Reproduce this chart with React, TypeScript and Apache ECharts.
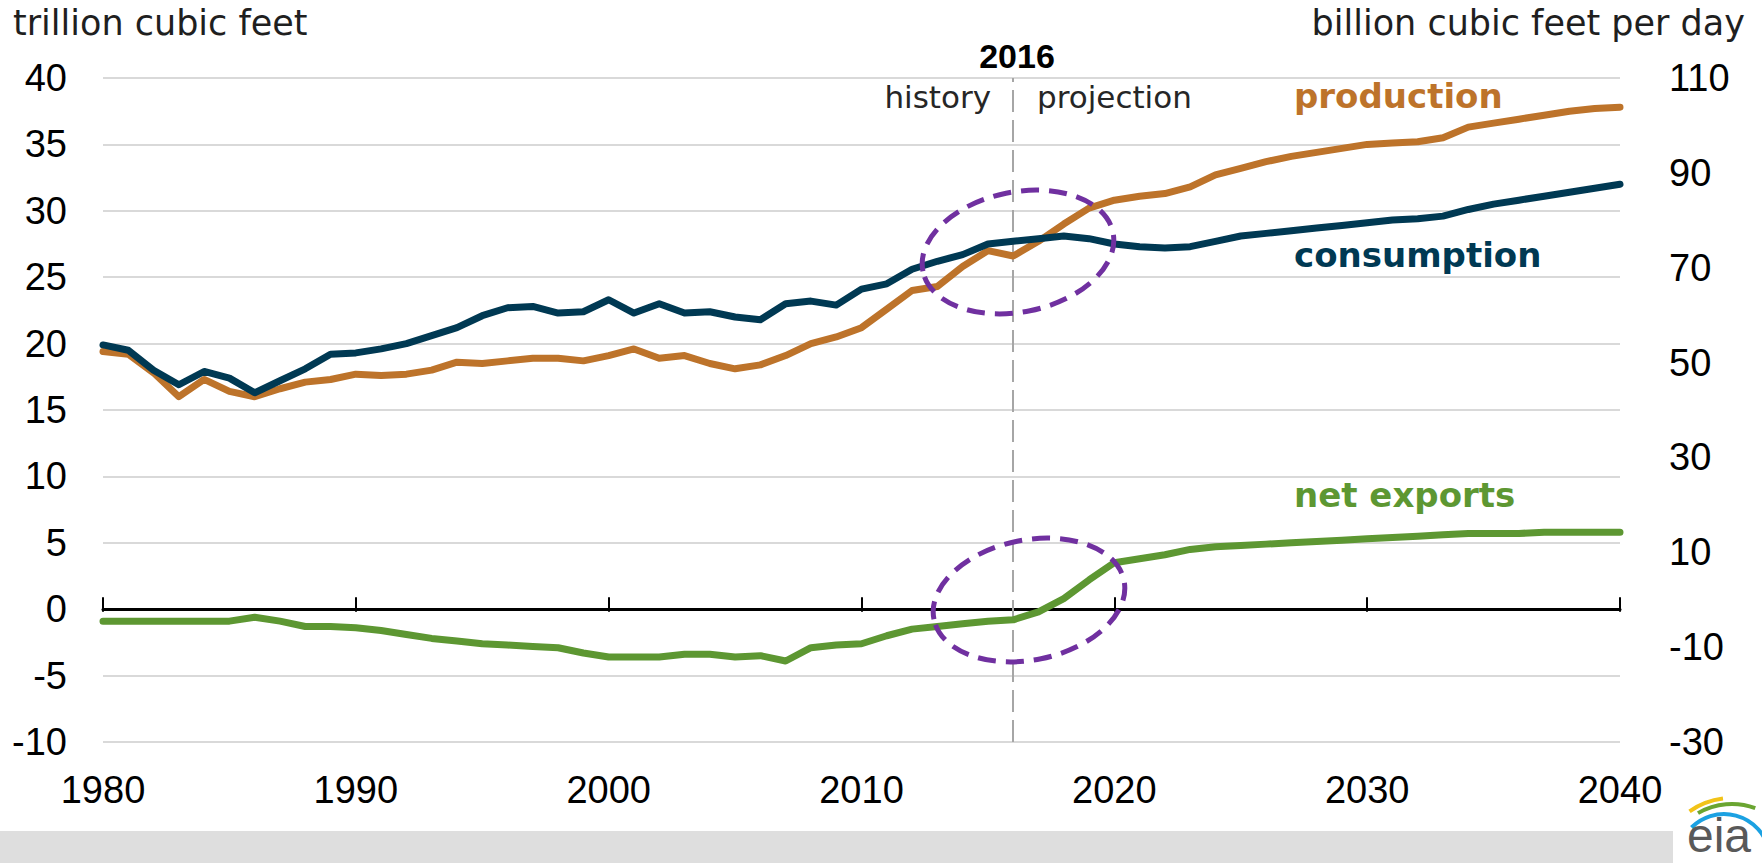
import React, { useEffect, useRef } from "react";
import * as echarts from "echarts";

// ---------- data ----------
const years: number[] = [
  1980, 1981, 1982, 1983, 1984, 1985, 1986, 1987, 1988, 1989,
  1990, 1991, 1992, 1993, 1994, 1995, 1996, 1997, 1998, 1999,
  2000, 2001, 2002, 2003, 2004, 2005, 2006, 2007, 2008, 2009,
  2010, 2011, 2012, 2013, 2014, 2015, 2016, 2017, 2018, 2019,
  2020, 2021, 2022, 2023, 2024, 2025, 2026, 2027, 2028, 2029,
  2030, 2031, 2032, 2033, 2034, 2035, 2036, 2037, 2038, 2039,
  2040,
];

const production: number[] = [
  19.4, 19.2, 17.8, 16.0, 17.3, 16.4, 16.0, 16.6, 17.1, 17.3,
  17.7, 17.6, 17.7, 18.0, 18.6, 18.5, 18.7, 18.9, 18.9, 18.7,
  19.1, 19.6, 18.9, 19.1, 18.5, 18.1, 18.4, 19.1, 20.0, 20.5,
  21.2, 22.6, 24.0, 24.3, 25.8, 27.0, 26.6, 27.7, 29.0, 30.2,
  30.8, 31.1, 31.3, 31.8, 32.7, 33.2, 33.7, 34.1, 34.4, 34.7,
  35.0, 35.1, 35.2, 35.5, 36.3, 36.6, 36.9, 37.2, 37.5, 37.7,
  37.8,
];

const consumption: number[] = [
  19.9, 19.5, 18.0, 16.9, 17.9, 17.4, 16.3, 17.2, 18.1, 19.2,
  19.3, 19.6, 20.0, 20.6, 21.2, 22.1, 22.7, 22.8, 22.3, 22.4,
  23.3, 22.3, 23.0, 22.3, 22.4, 22.0, 21.8, 23.0, 23.2, 22.9,
  24.1, 24.5, 25.6, 26.2, 26.7, 27.5, 27.7, 27.9, 28.1, 27.9,
  27.5, 27.3, 27.2, 27.3, 27.7, 28.1, 28.3, 28.5, 28.7, 28.9,
  29.1, 29.3, 29.4, 29.6, 30.1, 30.5, 30.8, 31.1, 31.4, 31.7,
  32.0,
];

const netExports: number[] = [
  -0.9, -0.9, -0.9, -0.9, -0.9, -0.9, -0.6, -0.9, -1.3, -1.3,
  -1.4, -1.6, -1.9, -2.2, -2.4, -2.6, -2.7, -2.8, -2.9, -3.3,
  -3.6, -3.6, -3.6, -3.4, -3.4, -3.6, -3.5, -3.9, -2.9, -2.7,
  -2.6, -2.0, -1.5, -1.3, -1.1, -0.9, -0.8, -0.2, 0.8, 2.2,
  3.5, 3.8, 4.1, 4.5, 4.7, 4.8, 4.9, 5.0, 5.1, 5.2,
  5.3, 5.4, 5.5, 5.6, 5.7, 5.7, 5.7, 5.8, 5.8, 5.8,
  5.8,
];

const splitYear = 2016;
const xRange = { min: 1980, max: 2040, interval: 10 };
const leftRange = { min: -10, max: 40, interval: 5 };
const rightRange = { min: -30, max: 110, interval: 20 };

const leftTitle = "trillion cubic feet";
const rightTitle = "billion cubic feet per day";
const seriesNames = ["production", "consumption", "net exports"];

// ---------- styles ----------
const ORANGE = "#BD732A";
const NAVY = "#003953";
const GREEN = "#5D9732";
const PURPLE = "#7030A0";
const TICK_FONT = "Liberation Sans";
const LABEL_FONT = "DejaVu Sans";

const pairs = (vals: number[]) => years.map((y, i) => [y, vals[i]]);

function buildOption() {
  const baseX = {
    type: "value",
    min: xRange.min,
    max: xRange.max,
    interval: xRange.interval,
    splitLine: { show: false },
  };
  const lineStyle = (color: string) => ({ color, width: 7, cap: "round", join: "round" });
  return {
    animation: false,
    backgroundColor: "#ffffff",
    grid: { left: 103, right: 142, top: 78, bottom: 121, containLabel: false },
    xAxis: [
      {
        ...baseX,
        axisLine: { show: false, onZero: false },
        axisTick: { show: false },
        axisLabel: {
          margin: 29,
          fontSize: 38,
          fontFamily: TICK_FONT,
          color: "#000",
          formatter: (v: number) => String(v),
        },
      },
      {
        ...baseX,
        axisLine: { show: true, onZero: true, lineStyle: { color: "#000", width: 3 } },
        axisTick: { show: true, inside: false, length: 12, lineStyle: { color: "#000", width: 2 } },
        axisLabel: { show: false },
      },
      {
        ...baseX,
        axisLine: { show: false, onZero: true },
        axisTick: { show: true, inside: true, length: 12, lineStyle: { color: "#000", width: 2 } },
        axisLabel: { show: false },
      },
    ],
    yAxis: [
      {
        type: "value",
        position: "left",
        min: leftRange.min,
        max: leftRange.max,
        interval: leftRange.interval,
        axisLine: { show: false },
        axisTick: { show: false },
        splitLine: { show: true, lineStyle: { color: "#D9D9D9", width: 2 } },
        axisLabel: { margin: 36, fontSize: 38, fontFamily: TICK_FONT, color: "#000" },
      },
      {
        type: "value",
        position: "right",
        min: rightRange.min,
        max: rightRange.max,
        interval: rightRange.interval,
        axisLine: { show: false },
        axisTick: { show: false },
        splitLine: { show: false },
        axisLabel: { margin: 49, fontSize: 38, fontFamily: TICK_FONT, color: "#000" },
      },
    ],
    series: [
      {
        name: seriesNames[2],
        type: "line",
        xAxisIndex: 0,
        yAxisIndex: 0,
        data: pairs(netExports),
        symbol: "none",
        lineStyle: lineStyle(GREEN),
        z: 3,
      },
      {
        name: seriesNames[0],
        type: "line",
        xAxisIndex: 0,
        yAxisIndex: 0,
        data: pairs(production),
        symbol: "none",
        lineStyle: lineStyle(ORANGE),
        z: 3,
        markLine: {
          silent: true,
          symbol: ["none", "none"],
          label: { show: false },
          lineStyle: { color: "#A6A6A6", type: [22, 8], width: 2 },
          data: [{ xAxis: splitYear }],
          z: 2,
        },
      },
      {
        name: seriesNames[1],
        type: "line",
        xAxisIndex: 0,
        yAxisIndex: 0,
        data: pairs(consumption),
        symbol: "none",
        lineStyle: lineStyle(NAVY),
        z: 4,
      },
    ],
  };
}

function txt(
  text: string,
  x: number,
  y: number,
  size: number,
  color: string,
  align: string,
  bold = false,
  family = LABEL_FONT
) {
  return {
    type: "text",
    x,
    y,
    z: 50,
    silent: true,
    style: {
      text,
      x: 0,
      y: 0,
      fill: color,
      fontSize: size,
      fontFamily: family,
      fontWeight: bold ? "bold" : "normal",
      textAlign: align,
      align,
      textVerticalAlign: "middle",
      verticalAlign: "middle",
    },
  };
}

function buildGraphics() {
  const ellipse = (cx: number, cy: number) => ({
    type: "ellipse",
    x: cx,
    y: cy,
    rotation: 0.2,
    z: 60,
    silent: true,
    shape: { cx: 0, cy: 0, rx: 97, ry: 60 },
    style: { fill: "none", stroke: PURPLE, lineWidth: 5, lineDash: [18, 10] },
  });
  const arc = (cx: number, cy: number, r: number, a0: number, a1: number, color: string) => ({
    type: "arc",
    z: 40,
    silent: true,
    shape: { cx, cy, r, startAngle: a0, endAngle: a1, clockwise: true },
    style: { stroke: color, lineWidth: 4, fill: "none" },
  });
  const deg = Math.PI / 180;
  return [
    {
      type: "rect",
      z: 1,
      silent: true,
      shape: { x: 0, y: 831, width: 1673, height: 32 },
      style: { fill: "#DEDEDE" },
    },
    txt(leftTitle, 13, 23, 35, "#1f1f1f", "left"),
    txt(rightTitle, 1745, 23, 35, "#1f1f1f", "right"),
    txt(String(splitYear), 1017, 56, 34, "#000", "center", true, TICK_FONT),
    txt("history", 991, 97, 31, "#262626", "right"),
    txt("projection", 1037, 97, 31, "#262626", "left"),
    txt(seriesNames[0], 1294, 96, 34, ORANGE, "left", true),
    txt(seriesNames[1], 1294, 255, 34, NAVY, "left", true),
    txt(seriesNames[2], 1294, 495, 34, GREEN, "left", true),
    ellipse(1018, 252),
    ellipse(1029, 600),
    arc(1732, 872, 74, -125 * deg, -97 * deg, "#F2C318"),
    arc(1732, 872, 68, -120 * deg, -70 * deg, "#6AA531"),
    arc(1724, 860, 46, -135 * deg, -15 * deg, "#1BA1E2"),
    txt("eia", 1687, 835, 48, "#595959", "left", false, TICK_FONT),
  ];
}

export default function App() {
  const ref = useRef<HTMLDivElement>(null);
  useEffect(() => {
    if (!ref.current) return;
    const chart = echarts.init(ref.current, null, { renderer: "svg" });
    const option: any = buildOption();
    option.graphic = { elements: buildGraphics() };
    chart.setOption(option);
    return () => chart.dispose();
  }, []);
  return (
    <div
      ref={ref}
      style={{ position: "absolute", left: 0, top: 0, width: 1762, height: 863 }}
    />
  );
}
